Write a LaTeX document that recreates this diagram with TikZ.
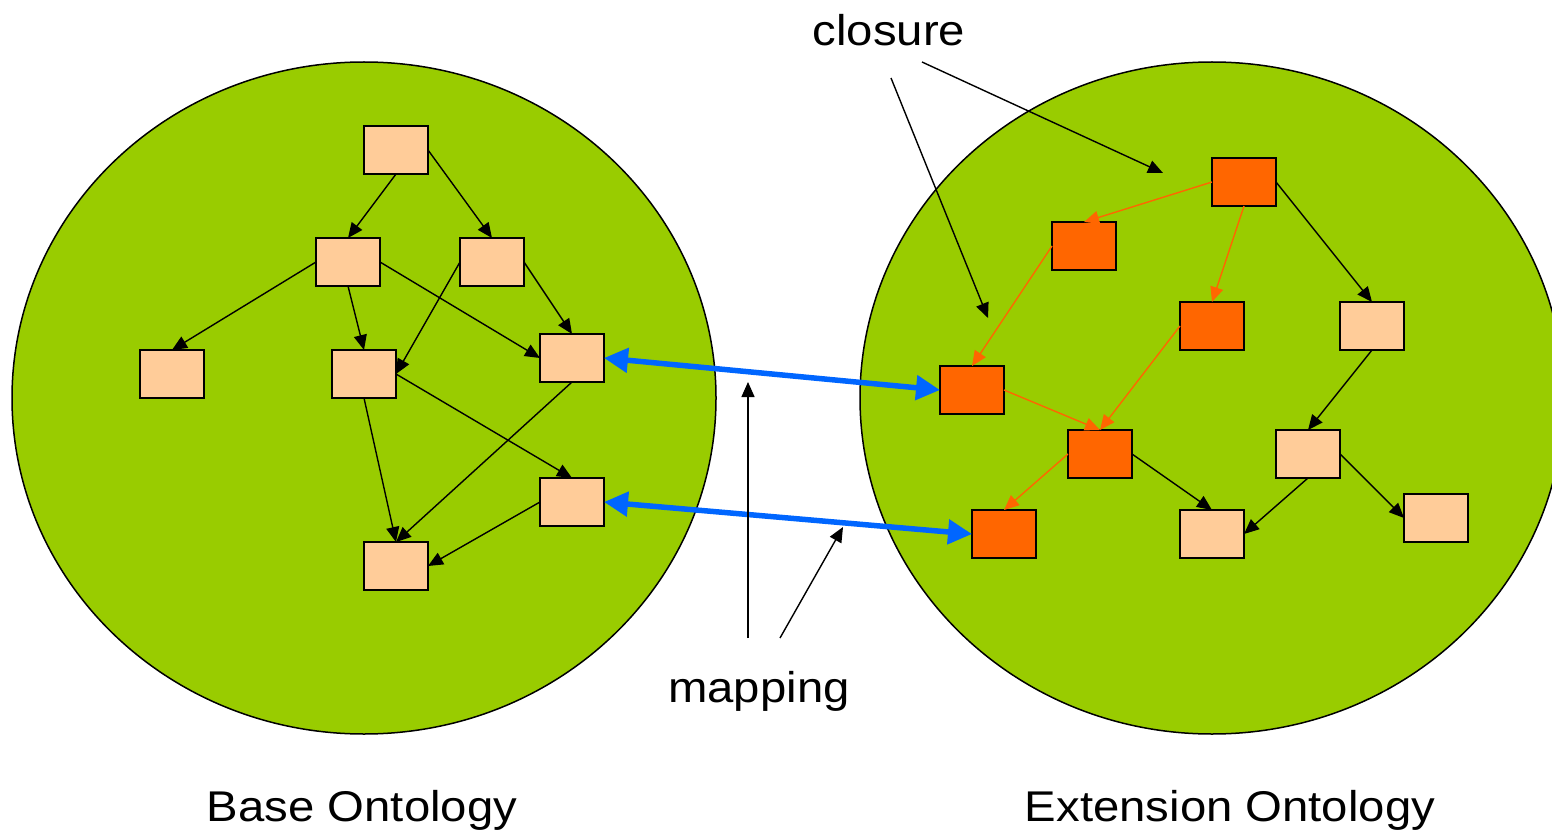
\documentclass[tikz,border=0pt]{standalone}
\usepackage{fontspec}
\setmainfont{Liberation Sans}
\usetikzlibrary{arrows.meta}
\definecolor{field}{HTML}{99CC00}
\definecolor{lightbox}{HTML}{FFCC99}
\definecolor{darkbox}{HTML}{FF6600}
\definecolor{mapblue}{HTML}{0066FF}
\tikzset{
  concept/.style={draw=black, line width=1.8pt, fill=lightbox, rectangle,
    minimum width=64pt, minimum height=48pt, inner sep=0pt, outer sep=0pt},
  closed/.style={concept, fill=darkbox},
  link/.style={line width=1.4pt, -{Triangle[length=15pt,width=13pt]}},
  clink/.style={link, draw=darkbox, -{Triangle[length=15pt,width=13pt,fill=darkbox]}},
  maplink/.style={line width=5.5pt, draw=mapblue,
    {Triangle[length=24pt,width=24pt]}-{Triangle[length=24pt,width=24pt]}},
  caption/.style={font=\fontsize{43}{50}\selectfont, anchor=base, inner sep=0pt, xscale=1.1},
  field/.style={draw=black, line width=1.5pt, fill=field}
}
\begin{document}
\begin{tikzpicture}[x=1pt, y=-1pt]
\useasboundingbox (0,0) rectangle (1552,837);

% the two ontology regions
\draw[field] (364,398) ellipse [x radius=352pt, y radius=336pt];
\draw[field] (1212,398) ellipse [x radius=352pt, y radius=336pt];

% base ontology concepts
\node[concept] (a) at (396,150) {};
\node[concept] (b) at (348,262) {};
\node[concept] (c) at (492,262) {};
\node[concept] (d) at (172,374) {};
\node[concept] (e) at (364,374) {};
\node[concept] (f) at (572,358) {};
\node[concept] (g) at (572,502) {};
\node[concept] (h) at (396,566) {};

% extension ontology concepts
\node[closed]  (r1)  at (1244,182) {};
\node[closed]  (r2)  at (1084,246) {};
\node[closed]  (r3)  at (1212,326) {};
\node[concept] (r4)  at (1372,326) {};
\node[closed]  (r5)  at (972,390) {};
\node[closed]  (r6)  at (1100,454) {};
\node[concept] (r7)  at (1308,454) {};
\node[closed]  (r8)  at (1004,534) {};
\node[concept] (r9)  at (1212,534) {};
\node[concept] (r10) at (1436,518) {};

% base hierarchy
\draw[link] (a.south) -- (b.north);
\draw[link] (a.east) -- (c.north);
\draw[link] (b.west) -- (d.north);
\draw[link] (b.south) -- (e.north);
\draw[link] (b.east) -- (f.west);
\draw[link] (c.west) -- (e.east);
\draw[link] (c.east) -- (f.north);
\draw[link] (e.east) -- (g.north);
\draw[link] (e.south) -- (h.north);
\draw[link] (f.south) -- (h.north);
\draw[link] (g.west) -- (h.east);

% extension hierarchy: closure in orange
\draw[clink] (r1.west) -- (r2.north);
\draw[clink] (r1.south) -- (r3.north);
\draw[clink] (r2.west) -- (r5.north);
\draw[clink] (r3.west) -- (r6.north);
\draw[clink] (r5.east) -- (r6.north);
\draw[clink] (r6.west) -- (r8.north);
\draw[link] (r1.east) -- (r4.north);
\draw[link] (r6.east) -- (r9.north);
\draw[link] (r4.south) -- (r7.north);
\draw[link] (r7.south) -- (r9.east);
\draw[link] (r7.east) -- (r10.west);

% mappings between the ontologies
\draw[maplink] (f.east) -- (r5.west);
\draw[maplink] (g.east) -- (r8.west);

% labels and their pointers
\node[caption] (closure) at (889,46) {closure};
\node[caption] (mapping) at (759,702) {mapping};
\node[caption] (base) at (362,821) {Base Ontology};
\node[caption] (ext) at (1230,821) {Extension Ontology};

\coordinate (c1s) at (922,62);
\coordinate (c1t) at (1163,173);
\coordinate (c2s) at (891,78);
\coordinate (c2t) at (988,318);
\draw[link] (c1s) -- (c1t);
\draw[link] (c2s) -- (c2t);

\coordinate (m1s) at (748,638);
\coordinate (m1t) at (748,382);
\coordinate (m2s) at (780,638);
\coordinate (m2t) at (843,527);
\draw[link] (m1s) -- (m1t);
\draw[link] (m2s) -- (m2t);
\end{tikzpicture}
\end{document}
